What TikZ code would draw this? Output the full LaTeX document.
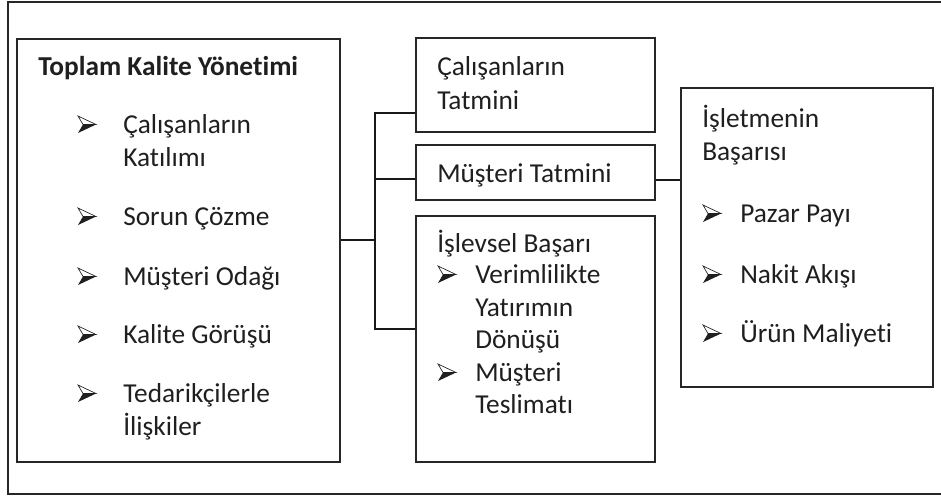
\documentclass[tikz,border=0pt]{standalone}
\usepackage{fontspec}
\setmainfont{Carlito}[Ligatures={NoCommon}]
\usetikzlibrary{fit}
\begin{document}
\begin{tikzpicture}[x=0.75pt,y=-0.75pt,
  box/.style={draw=black!85,line width=1.3pt,inner sep=0pt},
  conn/.style={draw=black!90,line width=1.2pt},
  txt/.style={anchor=base west,inner sep=0pt,font=\fontsize{20.5}{24}\selectfont,text=black!88},
  bold/.style={txt,font=\fontsize{20.5}{24}\selectfont\bfseries},
  bullet/.pic={
    \draw[black!88,line width=0.5pt,line join=miter] (0,-17) -- (18,-8.5) -- (5,-8.5) -- cycle;
    \fill[black!88] (5,-8.5) -- (18,-8.5) -- (0,0) -- cycle;
  }]
\useasboundingbox (0,0) rectangle (941,496);
% outer frame
\draw[box] (950,2) -- (8,2) -- (8,494) -- (950,494);
% boxes
\node[box,fit={(17,39) (340,462)}] (tkm) {};
\node[box,fit={(416,38) (655,132)}] (cal) {};
\node[box,fit={(416,145) (655,200)}] (mus) {};
\node[box,fit={(416,216) (655,462)}] (isl) {};
\node[box,fit={(681,88) (933,387)}] (ise) {};
% connectors
\coordinate (j) at (375,240);
\coordinate (t1) at (375,113);
\coordinate (t2) at (375,179);
\coordinate (t3) at (375,329);
\coordinate (r) at (668,180);
\draw[conn] (tkm.east |- j) -- (j);
\draw[conn] (cal.west |- t1) -- (t1) -- (t3) -- (isl.west |- t3);
\draw[conn] (t2) -- (mus.west |- t2);
\draw[conn] (mus.east |- r) -- (ise.west |- r);
% left box text
\node[bold] (h1) at (38,75) {Toplam Kalite Yönetimi};
\pic (b1) at (78,133) {bullet};
\node[txt] (l1) at (123,133) {Çalışanların};
\node[txt] (l1b) at (123,166) {Katılımı};
\pic (b2) at (78,225) {bullet};
\node[txt] (l2) at (123,225) {Sorun Çözme};
\pic (b3) at (78,285) {bullet};
\node[txt] (l3) at (123,285) {Müşteri Odağı};
\pic (b4) at (78,343) {bullet};
\node[txt] (l4) at (123,343) {Kalite Görüşü};
\pic (b5) at (78,402) {bullet};
\node[txt] (l5) at (123,402) {Tedarikçilerle};
\node[txt] (l5b) at (123,435) {İlişkiler};
% middle text
\node[txt] (c1) at (437,75) {Çalışanların};
\node[txt] (c2) at (437,109) {Tatmini};
\node[txt] (m1) at (437,182) {Müşteri Tatmini};
\node[txt] (i1) at (437,252) {İşlevsel Başarı};
\pic (ib1) at (438,283) {bullet};
\node[txt] (i2) at (475,283) {Verimlilikte};
\node[txt] (i3) at (475,316) {Yatırımın};
\node[txt] (i4) at (475,348) {Dönüşü};
\pic (ib2) at (438,381) {bullet};
\node[txt] (i5) at (475,381) {Müşteri};
\node[txt] (i6) at (475,413) {Teslimatı};
% right text
\node[txt] (e1) at (702,127) {İşletmenin};
\node[txt] (e2) at (702,160) {Başarısı};
\pic (eb1) at (703,222) {bullet};
\node[txt] (e3) at (740,222) {Pazar Payı};
\pic (eb2) at (703,283) {bullet};
\node[txt] (e4) at (740,283) {Nakit Akışı};
\pic (eb3) at (703,342) {bullet};
\node[txt] (e5) at (740,342) {Ürün Maliyeti};
\end{tikzpicture}
\end{document}
